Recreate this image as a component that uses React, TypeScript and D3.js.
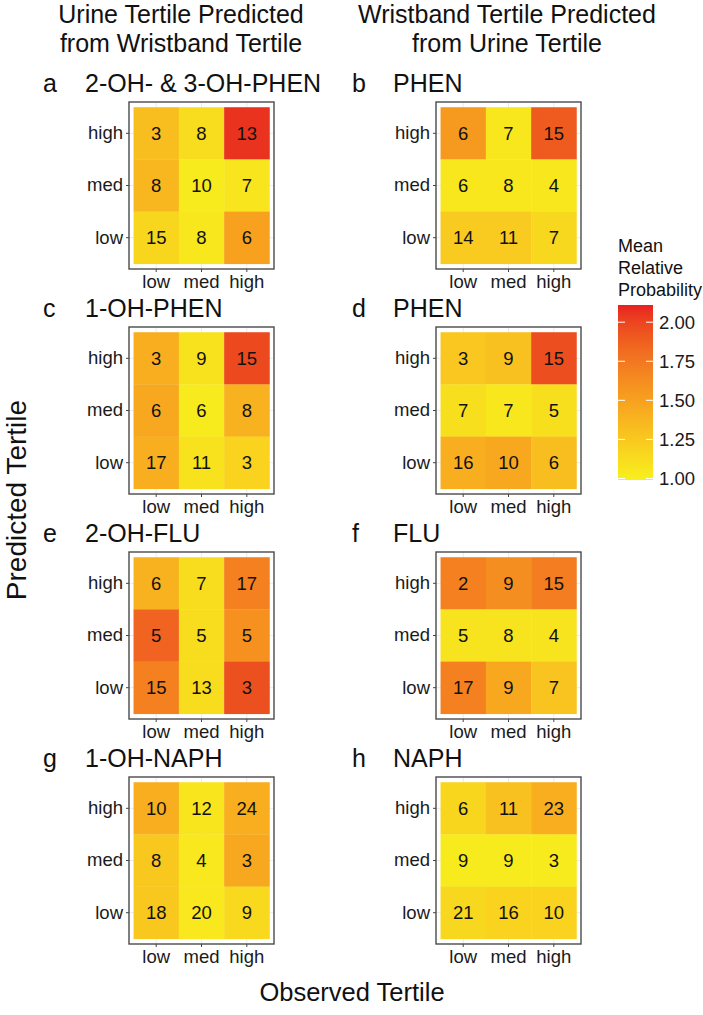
import React, { useEffect, useRef } from 'react';
import * as d3 from 'd3';

// ---- data ----
const tertiles = ['low', 'med', 'high'];
const panelLetters = ['a', 'b', 'c', 'd', 'e', 'f', 'g', 'h'];
const panelTitles = ['2-OH- & 3-OH-PHEN', 'PHEN', '1-OH-PHEN', 'PHEN', '2-OH-FLU', 'FLU', '1-OH-NAPH', 'NAPH'];
const columnHeaders = [
  ['Urine Tertile Predicted', 'from Wristband Tertile'],
  ['Wristband Tertile Predicted', 'from Urine Tertile'],
];

// counts, rows listed as drawn (predicted high, med, low) x observed (low, med, high)
const counts = [
  [[3, 8, 13], [8, 10, 7], [15, 8, 6]],
  [[6, 7, 15], [6, 8, 4], [14, 11, 7]],
  [[3, 9, 15], [6, 6, 8], [17, 11, 3]],
  [[3, 9, 15], [7, 7, 5], [16, 10, 6]],
  [[6, 7, 17], [5, 5, 5], [15, 13, 3]],
  [[2, 9, 15], [5, 8, 4], [17, 9, 7]],
  [[10, 12, 24], [8, 4, 3], [18, 20, 9]],
  [[6, 11, 23], [9, 9, 3], [21, 16, 10]],
];

const probs = [
  [[1.32, 1.12, 2.06], [1.36, 1.03, 1.06], [1.16, 1.05, 1.5]],
  [[1.55, 1.05, 1.9], [1.05, 1.05, 1.05], [1.24, 1.24, 1.15]],
  [[1.42, 1.08, 1.98], [1.46, 1.03, 1.4], [1.42, 1.08, 1.18]],
  [[1.26, 1.3, 1.96], [1.1, 1.05, 1.1], [1.42, 1.46, 1.32]],
  [[1.4, 1.12, 1.7], [1.86, 1.12, 1.6], [1.7, 1.12, 1.95]],
  [[1.7, 1.62, 1.72], [1.07, 1.07, 1.07], [1.7, 1.46, 1.28]],
  [[1.42, 1.06, 1.42], [1.25, 1.04, 1.46], [1.25, 1.04, 1.14]],
  [[1.16, 1.3, 1.42], [1.02, 1.02, 1.02], [1.15, 1.18, 1.18]],
];

const fillLimits = [0.99, 2.11];
const legendTicks = [1.0, 1.25, 1.5, 1.75, 2.0];

const FONT = '"Liberation Sans", Arial, Helvetica, sans-serif';

export default function App() {
  const ref = useRef(null);

  useEffect(() => {
    const svg = d3.select(ref.current);
    svg.selectAll('*').remove();

    const W = 703, H = 1015;
    const colLeft = [129, 436];
    const rowTop = [102, 327, 552, 777];
    const PW = 145, PH = 167;

    const color = d3.scaleLinear<string>()
      .domain(fillLimits)
      .range(['#f7f01d', '#e8201f'])
      .interpolate(d3.interpolateLab)
      .clamp(true);

    svg.append('rect').attr('width', W).attr('height', H).attr('fill', '#fff');

    /* column headers */
    columnHeaders.forEach((lines, c) => {
      const cx = c === 0 ? 181 : 507;
      lines.forEach((t, i) => {
        svg.append('text')
          .attr('x', cx).attr('y', 23 + i * 29)
          .attr('text-anchor', 'middle')
          .attr('font-size', 25)
          .attr('fill', '#111')
          .text(t);
      });
    });

    /* panels */
    counts.forEach((grid, p) => {
      const c = p % 2, r = Math.floor(p / 2);
      const x0 = colLeft[c], y0 = rowTop[r];

      const x = d3.scaleBand().domain(tertiles).range([x0, x0 + PW]).paddingInner(0).paddingOuter(0.1);
      const y = d3.scaleBand().domain([...tertiles].reverse()).range([y0, y0 + PH]).paddingInner(0).paddingOuter(0.1);
      const rowsDrawn = [...tertiles].reverse();

      const g = svg.append('g');

      // faint grid
      tertiles.forEach(t => {
        g.append('line')
          .attr('x1', x(t) + x.bandwidth() / 2).attr('x2', x(t) + x.bandwidth() / 2)
          .attr('y1', y0).attr('y2', y0 + PH)
          .attr('stroke', '#ebebeb').attr('stroke-width', 1);
        g.append('line')
          .attr('y1', y(t) + y.bandwidth() / 2).attr('y2', y(t) + y.bandwidth() / 2)
          .attr('x1', x0).attr('x2', x0 + PW)
          .attr('stroke', '#ebebeb').attr('stroke-width', 1);
      });

      grid.forEach((row, ri) => {
        row.forEach((n, ci) => {
          const pr = rowsDrawn[ri], ob = tertiles[ci];
          g.append('rect')
            .attr('x', x(ob)).attr('y', y(pr))
            .attr('width', x.bandwidth() + 0.3).attr('height', y.bandwidth() + 0.3)
            .attr('fill', color(probs[p][ri][ci]));
          g.append('text')
            .attr('x', x(ob) + x.bandwidth() / 2)
            .attr('y', y(pr) + y.bandwidth() / 2)
            .attr('dy', '0.36em')
            .attr('text-anchor', 'middle')
            .attr('font-size', 18.5)
            .attr('fill', '#111')
            .text(n);
        });
      });

      // border
      g.append('rect')
        .attr('x', x0).attr('y', y0).attr('width', PW).attr('height', PH)
        .attr('fill', 'none').attr('stroke', '#4a4a4a').attr('stroke-width', 1.4);

      // axes
      const styleAxis = a => {
        a.select('.domain').remove();
        a.selectAll('line').attr('stroke', '#444');
        a.selectAll('text').attr('font-size', 18.5).attr('fill', '#1a1a1a').attr('font-family', FONT);
      };
      g.append('g')
        .attr('transform', `translate(0,${y0 + PH})`)
        .call(d3.axisBottom(x).tickSize(3).tickPadding(3))
        .call(styleAxis);
      g.append('g')
        .attr('transform', `translate(${x0},0)`)
        .call(d3.axisLeft(y).tickSize(3).tickPadding(3))
        .call(styleAxis);

      // panel tag + title
      svg.append('text')
        .attr('x', c === 0 ? 43 : 352).attr('y', y0 - 10)
        .attr('font-size', 25).attr('fill', '#111')
        .text(panelLetters[p]);
      svg.append('text')
        .attr('x', c === 0 ? 85 : 393).attr('y', y0 - 10)
        .attr('font-size', 25).attr('fill', '#111')
        .text(panelTitles[p]);
    });

    /* axis titles */
    svg.append('text')
      .attr('transform', `translate(26,500) rotate(-90)`)
      .attr('text-anchor', 'middle')
      .attr('font-size', 28).attr('fill', '#111')
      .text('Predicted Tertile');
    svg.append('text')
      .attr('x', 352).attr('y', 1001)
      .attr('text-anchor', 'middle')
      .attr('font-size', 25.5).attr('fill', '#111')
      .text('Observed Tertile');

    /* legend */
    const lx = 618, lw = 35, lTop = 305, lBot = 480;
    ['Mean', 'Relative', 'Probability'].forEach((t, i) => {
      svg.append('text')
        .attr('x', lx).attr('y', 252 + i * 22)
        .attr('font-size', 18).attr('fill', '#111')
        .text(t);
    });
    const ly = d3.scaleLinear().domain(fillLimits).range([lBot, lTop]);
    const grad = svg.append('defs').append('linearGradient')
      .attr('id', 'fillgrad').attr('x1', 0).attr('x2', 0).attr('y1', 1).attr('y2', 0);
    d3.range(0, 1.0001, 0.05).forEach(f => {
      grad.append('stop')
        .attr('offset', f)
        .attr('stop-color', color(fillLimits[0] + f * (fillLimits[1] - fillLimits[0])));
    });
    svg.append('rect')
      .attr('x', lx).attr('y', lTop).attr('width', lw).attr('height', lBot - lTop)
      .attr('fill', 'url(#fillgrad)');
    legendTicks.forEach(v => {
      const yy = ly(v);
      svg.append('line').attr('x1', lx).attr('x2', lx + 7).attr('y1', yy).attr('y2', yy)
        .attr('stroke', '#fff').attr('stroke-width', 1);
      svg.append('line').attr('x1', lx + lw - 7).attr('x2', lx + lw).attr('y1', yy).attr('y2', yy)
        .attr('stroke', '#fff').attr('stroke-width', 1);
      svg.append('text')
        .attr('x', lx + lw + 6).attr('y', yy).attr('dy', '0.36em')
        .attr('font-size', 18.5).attr('fill', '#1a1a1a')
        .text(d3.format('.2f')(v));
    });
  }, []);

  return (
    <div style={{ position: 'absolute', left: 0, top: 0 }}>
      <svg ref={ref} width={703} height={1015} style={{ display: 'block', fontFamily: FONT }} />
    </div>
  );
}
